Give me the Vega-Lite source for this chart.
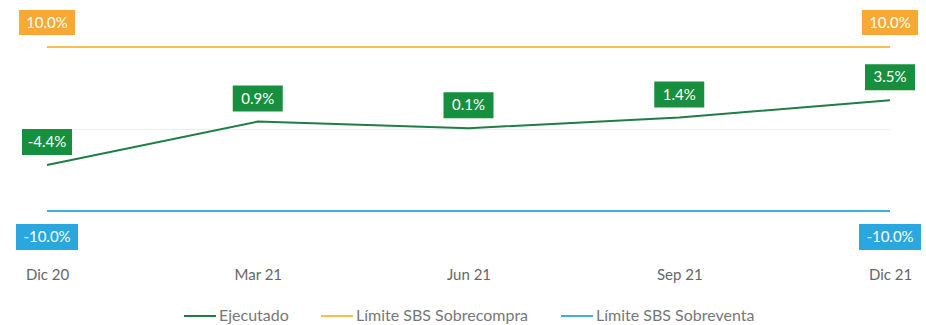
{
  "$schema": "https://vega.github.io/schema/vega-lite/v6.json",
  "width": 843,
  "height": 164,
  "autosize": "none",
  "padding": {"left": 47, "top": 47, "right": 36, "bottom": 114},
  "background": "white",
  "config": {
    "font": "Lato",
    "view": {"stroke": null}
  },
  "data": {
    "values": [
      {"fecha": "Dic 20", "orden": 1, "serie": "Ejecutado", "valor": -4.4, "etiqueta": "-4.4%", "mostrar": true},
      {"fecha": "Mar 21", "orden": 2, "serie": "Ejecutado", "valor": 0.9, "etiqueta": "0.9%", "mostrar": true},
      {"fecha": "Jun 21", "orden": 3, "serie": "Ejecutado", "valor": 0.1, "etiqueta": "0.1%", "mostrar": true},
      {"fecha": "Sep 21", "orden": 4, "serie": "Ejecutado", "valor": 1.4, "etiqueta": "1.4%", "mostrar": true},
      {"fecha": "Dic 21", "orden": 5, "serie": "Ejecutado", "valor": 3.5, "etiqueta": "3.5%", "mostrar": true},
      {"fecha": "Dic 20", "orden": 1, "serie": "Límite SBS Sobrecompra", "valor": 10, "etiqueta": "10.0%", "mostrar": true},
      {"fecha": "Mar 21", "orden": 2, "serie": "Límite SBS Sobrecompra", "valor": 10, "etiqueta": "10.0%", "mostrar": false},
      {"fecha": "Jun 21", "orden": 3, "serie": "Límite SBS Sobrecompra", "valor": 10, "etiqueta": "10.0%", "mostrar": false},
      {"fecha": "Sep 21", "orden": 4, "serie": "Límite SBS Sobrecompra", "valor": 10, "etiqueta": "10.0%", "mostrar": false},
      {"fecha": "Dic 21", "orden": 5, "serie": "Límite SBS Sobrecompra", "valor": 10, "etiqueta": "10.0%", "mostrar": true},
      {"fecha": "Dic 20", "orden": 1, "serie": "Límite SBS Sobreventa", "valor": -10, "etiqueta": "-10.0%", "mostrar": true},
      {"fecha": "Mar 21", "orden": 2, "serie": "Límite SBS Sobreventa", "valor": -10, "etiqueta": "-10.0%", "mostrar": false},
      {"fecha": "Jun 21", "orden": 3, "serie": "Límite SBS Sobreventa", "valor": -10, "etiqueta": "-10.0%", "mostrar": false},
      {"fecha": "Sep 21", "orden": 4, "serie": "Límite SBS Sobreventa", "valor": -10, "etiqueta": "-10.0%", "mostrar": false},
      {"fecha": "Dic 21", "orden": 5, "serie": "Límite SBS Sobreventa", "valor": -10, "etiqueta": "-10.0%", "mostrar": true}
    ]
  },
  "encoding": {
    "x": {
      "field": "fecha",
      "type": "ordinal",
      "sort": {"field": "orden"},
      "scale": {"type": "point", "padding": 0},
      "axis": {
        "title": null,
        "labelAngle": 0,
        "domain": false,
        "ticks": false,
        "labelPadding": 56,
        "labelFontSize": 15,
        "labelColor": "#666666",
        "labelFont": "Lato",
        "labelFontWeight": "normal"
      }
    },
    "y": {
      "field": "valor",
      "type": "quantitative",
      "scale": {"domain": [-10, 10], "nice": false, "zero": false},
      "axis": {
        "title": null,
        "values": [-10, 0, 10],
        "labels": false,
        "ticks": false,
        "domain": false,
        "grid": true,
        "gridColor": "#eeeeee",
        "gridWidth": 1
      }
    }
  },
  "layer": [
    {
      "mark": {"type": "line", "strokeWidth": 2},
      "encoding": {
        "color": {
          "field": "serie",
          "type": "nominal",
          "scale": {
            "domain": ["Ejecutado", "Límite SBS Sobrecompra", "Límite SBS Sobreventa"],
            "range": ["#1f7d47", "#f7c04a", "#3fb0e0"]
          },
          "legend": {
            "title": null,
            "orient": "none",
            "direction": "horizontal",
            "legendX": 136,
            "legendY": 252,
            "symbolType": "stroke",
            "symbolSize": 1024,
            "symbolStrokeWidth": 2,
            "labelFontSize": 16,
            "labelColor": "#777777",
            "labelFont": "Lato",
            "labelOffset": 2,
            "columnPadding": 28,
            "labelLimit": 300
          }
        }
      }
    },
    {
      "transform": [{"filter": "datum.serie === 'Ejecutado'"}],
      "mark": {"type": "point", "shape": "M-1,-0.52H1V0.52H-1Z", "size": 2500, "filled": true, "opacity": 1, "color": "#178f3f", "strokeWidth": 0, "yOffset": -23}
    },
    {
      "transform": [{"filter": "datum.serie === 'Ejecutado'"}],
      "mark": {"type": "text", "color": "white", "fontSize": 15, "font": "Lato", "baseline": "middle", "align": "center", "yOffset": -23},
      "encoding": {"text": {"field": "etiqueta"}}
    },
    {
      "transform": [{"filter": "datum.serie === 'Límite SBS Sobrecompra' && datum.mostrar"}],
      "mark": {"type": "point", "shape": "M-1,-0.446H1V0.446H-1Z", "size": 3136, "filled": true, "opacity": 1, "color": "#f6a935", "strokeWidth": 0, "yOffset": -24.5}
    },
    {
      "transform": [{"filter": "datum.serie === 'Límite SBS Sobrecompra' && datum.mostrar"}],
      "mark": {"type": "text", "color": "white", "fontSize": 15, "font": "Lato", "baseline": "middle", "align": "center", "yOffset": -24.5},
      "encoding": {"text": {"field": "etiqueta"}}
    },
    {
      "transform": [{"filter": "datum.serie === 'Límite SBS Sobreventa' && datum.mostrar"}],
      "mark": {"type": "point", "shape": "M-1,-0.42H1V0.42H-1Z", "size": 3844, "filled": true, "opacity": 1, "color": "#2aa7df", "strokeWidth": 0, "yOffset": 26}
    },
    {
      "transform": [{"filter": "datum.serie === 'Límite SBS Sobreventa' && datum.mostrar"}],
      "mark": {"type": "text", "color": "white", "fontSize": 15, "font": "Lato", "baseline": "middle", "align": "center", "yOffset": 26},
      "encoding": {"text": {"field": "etiqueta"}}
    }
  ]
}
